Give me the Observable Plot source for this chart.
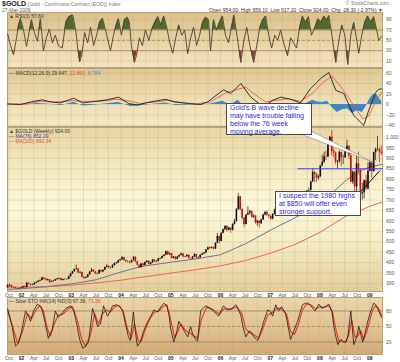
<!DOCTYPE html>
<html><head><meta charset="utf-8">
<script src="https://cdn.jsdelivr.net/npm/d3@7"></script>
<script src="https://cdn.jsdelivr.net/npm/@observablehq/plot@0.6"></script>
<style>
html,body{margin:0;padding:0;background:#fff;}
#c{position:relative;width:400px;height:362px;overflow:hidden;font-family:Arial,"Liberation Sans",sans-serif;}
.bg{position:absolute;left:7px;width:376px;box-sizing:border-box;border:0.5px solid #b7a27a;}
.t{position:absolute;white-space:nowrap;font-size:5px;line-height:5px;color:#444;}
.box{position:absolute;box-sizing:border-box;background:#fff;border:1px solid #4a4a4a;color:#2b2bd6;font-size:7px;line-height:8px;padding:0 0 0 3px;white-space:nowrap;}
#c svg{position:absolute;left:0;}
</style></head><body><div id="c"></div>
<script>
// ---------- DATA (weekly chart, sampled every two weeks from 2001-09-21) ----------
const firstOpen = 280;
const close = [289,291,281,280,275,275,276,279,285,280,
301,296,292,293,301,305,311,314,327,321,
314,318,305,309,312,318,322,324,314,319,
320,319,333,347,356,367,370,351,353,330,
325,329,341,355,364,356,346,347,363,355,
364,377,382,375,374,386,396,398,409,414,
424,410,405,404,400,410,426,404,388,377,
394,386,401,407,392,399,413,404,406,418,
420,429,436,452,438,443,420,427,416,427,
434,442,427,428,436,420,418,427,439,423,
424,436,441,446,461,472,468,472,465,493,
526,502,541,558,574,555,566,555,584,597,
654,715,655,614,583,628,637,645,618,624,
590,599,587,605,628,641,628,622,609,632,
652,670,645,653,663,688,680,666,658,660,
655,657,690,675,664,674,714,743,746,787,
833,823,805,812,864,881,908,906,975,1001,
933,925,882,885,929,903,903,933,958,913,
786,834,763,874,843,730,735,793,753,838,
878,837,928,942,943,930,924];
const high = [296,296,292,284,282,277,279,281,288,287,
306,303,298,297,304,308,313,318,329,330,
324,322,319,312,315,320,325,326,325,321,
322,322,335,349,358,369,389,373,358,354,
331,332,343,357,372,366,358,350,366,364,
366,379,390,386,379,391,398,401,411,417,
429,426,412,410,405,412,428,428,406,390,
396,397,403,410,408,402,416,414,409,420,
423,432,438,455,456,446,444,429,429,430,
437,446,443,431,438,437,422,430,443,440,
428,438,446,449,463,475,476,476,475,496,
540,528,543,562,576,576,570,568,586,608,
660,732,718,658,616,631,668,652,648,630,
626,603,601,608,632,647,648,630,625,634,
656,675,687,657,668,695,693,684,669,668,
664,662,694,692,678,678,718,746,758,790,
850,838,830,820,866,915,930,935,980,1005,
1033,945,930,890,935,930,915,942,988,960,
915,840,836,915,930,850,780,795,820,880,
885,880,930,950,1006,950,960];
const low = [276,284,277,276,273,271,272,274,277,278,
280,292,288,289,292,300,304,309,313,318,
312,312,302,303,307,310,316,318,312,313,
316,315,318,331,343,354,365,348,346,327,
320,322,327,339,353,352,343,341,345,352,
353,362,375,370,368,372,383,391,396,405,
411,406,400,398,393,398,408,400,385,372,
375,382,384,398,388,389,397,401,401,404,
414,418,427,434,435,434,417,418,411,414,
425,432,424,424,426,418,414,415,425,419,
418,422,434,438,444,459,463,465,461,463,
491,490,500,538,553,547,552,540,552,580,
595,650,648,605,567,580,625,628,612,612,
585,574,565,583,602,624,622,612,603,605,
629,650,640,636,648,660,675,660,652,650,
640,648,655,668,645,660,672,710,730,744,
785,782,785,795,808,860,875,890,905,965,
912,905,870,850,875,860,870,900,930,895,
785,775,740,735,820,681,700,705,745,750,
835,805,833,890,935,880,914];

// moving averages (decimal year, value)
const ma76T = [2001.72,2002.0,2002.5,2003.0,2003.5,2004.0,2004.25,2004.5,2005.0,2005.5,2006.0,2006.5,2007.0,2007.5,2008.0,2008.25,2008.5,2008.75,2009.0,2009.24];
const ma76V = [272,275,285,298,318,355,372,385,402,418,438,490,555,615,680,735,790,835,858,871];
const ma200T = [2001.72,2002.5,2003.0,2003.5,2004.0,2004.5,2005.0,2005.5,2006.0,2006.5,2007.0,2007.5,2008.0,2008.5,2009.0,2009.24];
const ma200V = [283,284,292,303,316,333,350,366,385,410,445,487,545,620,670,690];

// RSI(3)
const rsiT = [2001.72,2001.78,2001.84,2001.90,2001.94,2001.98,2002.04,2002.10,2002.16,2002.20,2002.26,2002.32,2002.38,2002.44,2002.50,2002.56,2002.62,2002.68,2002.74,2002.82,2002.89,2002.95,2003.03,2003.09,2003.13,2003.17,2003.21,2003.27,2003.33,2003.39,2003.45,2003.51,2003.57,2003.63,2003.69,2003.75,2003.79,2003.85,2003.91,2003.95,2004.01,2004.07,2004.13,2004.17,2004.21,2004.27,2004.31,2004.37,2004.43,2004.49,2004.56,2004.62,2004.68,2004.74,2004.80,2004.86,2004.92,2004.98,2005.04,2005.10,2005.16,2005.22,2005.28,2005.34,2005.40,2005.46,2005.52,2005.58,2005.64,2005.70,2005.76,2005.80,2005.86,2005.92,2005.98,2006.04,2006.10,2006.16,2006.21,2006.27,2006.33,2006.41,2006.47,2006.53,2006.59,2006.67,2006.73,2006.79,2006.85,2006.91,2006.97,2007.03,2007.09,2007.15,2007.21,2007.27,2007.35,2007.41,2007.47,2007.53,2007.59,2007.65,2007.71,2007.77,2007.83,2007.90,2007.96,2008.02,2008.08,2008.14,2008.18,2008.24,2008.32,2008.38,2008.44,2008.50,2008.56,2008.62,2008.68,2008.74,2008.78,2008.84,2008.90,2008.96,2009.02,2009.08,2009.14,2009.18,2009.24];
const rsiV = [63,40,22,55,80,92,70,38,70,90,65,48,92,30,55,72,45,60,40,35,85,96,99,70,35,8,20,65,45,75,40,60,85,93,70,45,30,60,82,92,60,90,95,85,40,7,20,55,40,70,50,72,85,96,80,97,75,45,25,55,80,60,70,24,55,75,40,60,85,95,90,30,90,70,85,97,60,45,70,99,60,7,50,75,40,7,40,75,90,97,60,35,60,50,70,45,20,55,45,35,75,97,85,96,60,75,92,85,97,90,98,60,7,50,80,60,3,60,85,50,25,60,85,97,85,96,70,50,57.6];

// MACD(12,26,9)
const macdT = [2001.72,2001.98,2002.24,2002.42,2002.58,2002.78,2003.05,2003.23,2003.39,2003.73,2003.95,2004.15,2004.33,2004.54,2004.90,2005.06,2005.34,2005.60,2005.74,2006.06,2006.21,2006.41,2006.61,2006.77,2006.91,2007.05,2007.21,2007.41,2007.61,2007.81,2008.02,2008.18,2008.32,2008.48,2008.68,2008.82,2008.88,2008.98,2009.12,2009.18,2009.24];
const macdV = [1,0,6,9,5,3,12,3,5,9,14,2,-1,4,10,5,2,0,5,28,21,40,14,2,-1,8,14,10,3,30,50,61,27,21,-21,-34,-40,-11,23,29,29.6];
const sigT = [2001.72,2002.08,2002.38,2002.68,2002.99,2003.29,2003.59,2003.89,2004.09,2004.39,2004.70,2004.96,2005.20,2005.50,2005.80,2006.10,2006.31,2006.51,2006.71,2006.91,2007.11,2007.37,2007.61,2007.86,2008.06,2008.24,2008.42,2008.58,2008.72,2008.86,2008.98,2009.10,2009.24];
const sigV = [1,1,6,5,7,6,6,10,8,2,5,8,4,1,5,22,28,33,18,5,8,11,6,22,42,54,34,12,-8,-27,-22,2,22.9];
const histT = [2001.72,2002.1,2002.3,2002.5,2002.8,2003.05,2003.25,2003.5,2003.75,2003.95,2004.2,2004.35,2004.6,2004.9,2005.1,2005.4,2005.6,2005.8,2006.05,2006.2,2006.35,2006.55,2006.75,2006.95,2007.1,2007.3,2007.5,2007.65,2007.75,2007.85,2007.95,2008.05,2008.15,2008.25,2008.35,2008.45,2008.55,2008.65,2008.75,2008.85,2008.92,2009.0,2009.08,2009.15,2009.2,2009.24];
const histV = [0,-1,2,1,-2,4,-3,-1,2,4,-4,-3,0,3,-2,-1,-1,1,6,-2,8,-10,-6,-3,2,2,-2,-1,3,8,5,4,6,-6,-15,-10,-8,-17,-12,-15,-5,10,20,18,10,6.8];

// Slow Stochastics %K(14) %D(3)
const kT = [2001.72,2001.80,2001.88,2001.94,2002.00,2002.08,2002.14,2002.18,2002.24,2002.32,2002.40,2002.48,2002.54,2002.62,2002.68,2002.74,2002.82,2002.89,2002.99,2003.05,2003.11,2003.17,2003.23,2003.29,2003.35,2003.43,2003.49,2003.53,2003.59,2003.65,2003.73,2003.79,2003.83,2003.93,2004.03,2004.09,2004.15,2004.19,2004.25,2004.29,2004.33,2004.39,2004.45,2004.54,2004.60,2004.66,2004.74,2004.80,2004.86,2004.92,2004.96,2005.00,2005.06,2005.12,2005.16,2005.22,2005.28,2005.34,2005.40,2005.44,2005.50,2005.54,2005.60,2005.70,2005.80,2005.88,2005.96,2006.06,2006.14,2006.23,2006.31,2006.41,2006.45,2006.51,2006.57,2006.61,2006.67,2006.75,2006.81,2006.87,2006.95,2007.01,2007.05,2007.11,2007.17,2007.23,2007.31,2007.37,2007.41,2007.47,2007.55,2007.61,2007.65,2007.71,2007.77,2007.83,2007.90,2007.98,2008.04,2008.10,2008.18,2008.24,2008.28,2008.32,2008.36,2008.42,2008.48,2008.52,2008.56,2008.62,2008.68,2008.74,2008.78,2008.82,2008.86,2008.90,2008.96,2009.02,2009.08,2009.12,2009.18,2009.24];
const kV = [84,55,12,18,40,80,70,60,80,93,88,55,27,45,80,68,75,85,90,80,55,25,8,12,20,85,65,50,55,90,70,80,90,92,82,55,30,23,78,40,12,20,40,60,70,82,78,88,95,90,75,45,20,40,60,50,40,30,50,35,25,22,80,90,85,78,70,90,82,85,92,72,50,30,40,40,30,23,40,60,82,78,70,92,80,88,75,45,25,40,60,80,92,95,95,88,80,93,85,88,93,80,50,30,15,25,20,20,30,80,15,30,50,35,20,35,60,80,95,92,80,67.4];
const dT = [2001.72,2001.82,2001.92,2002.02,2002.12,2002.20,2002.28,2002.36,2002.44,2002.52,2002.58,2002.66,2002.74,2002.85,2002.95,2003.03,2003.13,2003.21,2003.29,2003.39,2003.47,2003.55,2003.63,2003.71,2003.79,2003.87,2003.97,2004.05,2004.13,2004.21,2004.27,2004.35,2004.41,2004.49,2004.58,2004.68,2004.76,2004.84,2004.92,2005.00,2005.08,2005.14,2005.20,2005.30,2005.38,2005.46,2005.54,2005.62,2005.72,2005.84,2005.98,2006.08,2006.21,2006.33,2006.43,2006.51,2006.59,2006.67,2006.77,2006.85,2006.95,2007.03,2007.13,2007.21,2007.33,2007.41,2007.49,2007.57,2007.65,2007.73,2007.81,2007.92,2008.00,2008.08,2008.18,2008.26,2008.32,2008.38,2008.44,2008.52,2008.58,2008.64,2008.70,2008.76,2008.82,2008.88,2008.94,2009.00,2009.06,2009.12,2009.18,2009.24];
const dV = [80,50,18,40,75,65,80,90,80,45,32,55,72,75,85,88,60,25,12,35,75,55,75,82,78,88,90,78,45,28,55,22,22,45,65,78,80,88,92,62,28,40,55,42,38,32,28,65,87,83,74,85,83,88,75,45,38,34,28,45,72,76,85,85,74,40,35,55,82,93,92,84,88,87,90,75,45,22,22,20,35,62,30,32,42,25,40,62,82,90,85,71.4];

// annotations
const supportLevel = 850, supportFrom = 2007.56;
const tail1T = [2007.65, 2009.08, 2007.84], tail1V = [1014, 880, 1029];
const tail2T = [2008.82, 2009.20], tail2V = [741, 840];

// axis ticks
const rsiTicks = [90,70,50,30,10];
const macdTicks = [60,40,20,0,-20,-40];
const priceTicks = d3.range(300, 1001, 50);
const stoTicks = [80,50,20];

// ---------- BUILD ----------
function yd(y){const yr=Math.floor(y);const s=Date.UTC(yr,0,1),e=Date.UTC(yr+1,0,1);return new Date(s+(y-yr)*(e-s));}
function series(T,V){const n=Math.min(T.length,V.length);return d3.range(n).map(i=>({t:yd(T[i]),v:V[i]}));}
function clampFill(data, level, above){
  const out=[];
  data.forEach((d,i)=>{
    if(i>0){const p=data[i-1];
      if((p.v-level)*(d.v-level)<0){const f=(level-p.v)/(d.v-p.v);out.push({t:new Date(+p.t+f*(d.t-p.t)),v:level});}}
    out.push({t:d.t,v:above?Math.max(d.v,level):Math.min(d.v,level)});
  });
  return out;
}
const start = Date.UTC(2001,8,21);
const price = d3.range(Math.min(close.length,high.length,low.length)).map(i=>({
  date:new Date(start+i*14*864e5), open:i?close[i-1]:firstOpen, close:close[i], high:high[i], low:low[i]}));
const rsi = series(rsiT,rsiV), macd=series(macdT,macdV), sig=series(sigT,sigV), hist=series(histT,histV);
const stK = series(kT,kV), stD = series(dT,dV);
const ma76 = series(ma76T,ma76V), ma200 = series(ma200T,ma200V);

const xd0 = new Date(Date.UTC(2001,8,20)), xd1 = new Date(Date.UTC(2009,3,12));
const qt = d3.utcMonth.every(3).range(d3.utcMonth.ceil(xd0), new Date(Date.UTC(2009,1,1)));
const mon = d3.utcFormat("%b");
const GRID = "#bda676";
const FONT = "Arial, 'Liberation Sans', sans-serif";
const c = document.getElementById("c");

function bg(top,h,grad){const d=document.createElement("div");d.className="bg";d.style.top=top+"px";d.style.height=h+"px";d.style.background=grad;c.appendChild(d);}
function put(svg,top){svg.style.top=top+"px";c.appendChild(svg);}
function txt(x,y,html,css){const s=document.createElement("div");s.className="t";s.style.left=x+"px";s.style.top=y+"px";s.innerHTML=html;if(css)s.style.cssText+=css;c.appendChild(s);return s;}

function xAxes(){
  return [
    Plot.axisX({ticks: qt.filter(d=>d.getUTCMonth()!==0), tickFormat: mon, tickSize:0, tickPadding:0.5, fontSize:5, fill:"#555", label:null}),
    Plot.axisX({ticks: qt.filter(d=>d.getUTCMonth()===0), tickFormat: d=>String(d.getUTCFullYear()).slice(2), tickSize:0, tickPadding:0.5, fontSize:5, fontWeight:"bold", fill:"#222", label:null})
  ];
}
function panel(h, mb, dom, ticks, marks, withX){
  return Plot.plot({
    width:400, height:h, marginLeft:7, marginRight:17, marginTop:0, marginBottom:mb,
    x:{type:"utc", domain:[xd0,xd1], axis: withX?undefined:null},
    y:{domain:dom},
    color:{type:"identity"},
    style:{background:"transparent", fontFamily:FONT, overflow:"visible"},
    marks:[
      Plot.gridX({ticks:qt, stroke:GRID, strokeOpacity:0.45, strokeWidth:0.6}),
      Plot.gridY({ticks:ticks, stroke:GRID, strokeOpacity:0.45, strokeWidth:0.6}),
      ...marks,
      Plot.axisY({anchor:"right", ticks:ticks, tickSize:0, tickPadding:2.5, fontSize:5, fill:"#555", label:null}),
      ...(withX?xAxes():[])
    ]
  });
}

// backgrounds
bg(12,56,"linear-gradient(#dcc18c,#e9d4a6 55%,#f3e5c0)");
bg(68,59,"linear-gradient(#e0c793,#ecdcb0 50%,#f5e9c6)");
bg(127,165,"linear-gradient(#e9d6a4,#f7f1cc 35%,#fbf9da 50%,#f4ecc4 70%,#e4cd9b)");
bg(297,58,"linear-gradient(#ead5a9,#dfc08e 60%,#d2aa76)");

// RSI panel
put(panel(56,0,[-4.6,104],rsiTicks,[
  Plot.areaY(clampFill(rsi,70,true),{x:"t",y1:70,y2:"v",fill:"#506a2c"}),
  Plot.areaY(clampFill(rsi,30,false),{x:"t",y1:30,y2:"v",fill:"#8e3a2c"}),
  Plot.ruleY([70,30],{stroke:"#8f8065",strokeWidth:0.7}),
  Plot.ruleY([50],{stroke:"#8f8065",strokeWidth:0.7,strokeDasharray:"3,2"}),
  Plot.line(rsi,{x:"t",y:"v",stroke:"#4a4036",strokeWidth:0.9})
],false),12);

// MACD panel
put(panel(59,0,[-43.8,68.6],macdTicks,[
  Plot.areaY(hist,{x:"t",y:"v",fill:"#3a88c6"}),
  Plot.line(sig,{x:"t",y:"v",stroke:"#f0564a",strokeWidth:0.9}),
  Plot.line(macd,{x:"t",y:"v",stroke:"#1d1d1d",strokeWidth:0.9})
],false),68);

// Price panel
const upC="#111", dnC="#c81010";
put(panel(170,5,[257,1048],priceTicks,[
  Plot.line(ma200,{x:"t",y:"v",stroke:"#f0665a",strokeWidth:1}),
  Plot.line(ma76,{x:"t",y:"v",stroke:"#6e6ea2",strokeWidth:1}),
  Plot.ruleX(price,{x:"date",y1:"low",y2:"high",stroke:d=>d.close>=d.open?upC:dnC,strokeWidth:0.7}),
  Plot.ruleX(price,{x:"date",y1:"open",y2:"close",stroke:d=>d.close>=d.open?upC:dnC,strokeWidth:1.6}),
  Plot.ruleY([supportLevel],{x1:yd(supportFrom),x2:xd1,stroke:"#3340ff",strokeWidth:1}),
  Plot.line(series(tail1T,tail1V),{x:"t",y:"v",fill:"#fff",stroke:"#808080",strokeWidth:0.6}),
  Plot.line(series(tail2T,tail2V),{x:"t",y:"v",stroke:"#111",strokeWidth:1})
],true),127);

// Stochastic panel
put(panel(65,7,[-6,106],stoTicks,[
  Plot.ruleY([80,20],{stroke:"#8f8065",strokeWidth:0.7}),
  Plot.ruleY([50],{stroke:"#8f8065",strokeWidth:0.7,strokeDasharray:"3,2"}),
  Plot.line(stD,{x:"t",y:"v",stroke:"#ee3a2a",strokeWidth:1.2}),
  Plot.line(stK,{x:"t",y:"v",stroke:"#1a1a1a",strokeWidth:0.8})
],true),297);

// ---------- TEXT ----------
txt(2,1,'<b style="font-size:7px;color:#222">$GOLD</b> <span style="color:#777">(Gold - Continuous Contract (EOD)) Index</span>');
txt(2,8,'27-Mar-2009','color:#666');
txt(346,1,'© StockCharts.com','color:#777');
txt(0,7.5,'Open 954.00 &nbsp;High 959.10 &nbsp;Low 917.20 &nbsp;Close 924.00 &nbsp;Chg -28.30 (-2.97%) <span style="color:#c00">▼</span>','left:auto;right:17px;color:#333');
txt(9,13.5,'▲ RSI(3) 57.60','color:#333');
txt(9,70.5,'— MACD(12,26,9) 29.647, <span style="color:#e5483a">22.863</span>, <span style="color:#3a88c6">6.784</span>','color:#333');
txt(9,129,'▲ $GOLD (Weekly) 924.00','color:#333');
txt(9,134,'— MA(76) 852.29','color:#3d3d8e');
txt(9,139,'— MA(200) 690.34','color:#e5483a');
txt(9,299,'— Slow STO %K(14) %D(3) 67.36, <span style="color:#e5483a">71.38</span>','color:#333');

function box(x,y,w,h,lines){const d=document.createElement("div");d.className="box";d.style.left=x+"px";d.style.top=y+"px";d.style.width=w+"px";d.style.height=h+"px";d.innerHTML=lines.join("<br>");c.appendChild(d);}
box(226,103,86,32,["Gold's B wave decline","may have trouble falling","below the 76 week","moving average."]);
box(275,191,86,25,["I suspect the 1980 highs","at $850 will offer even","stronger support."]);
</script></body></html>
